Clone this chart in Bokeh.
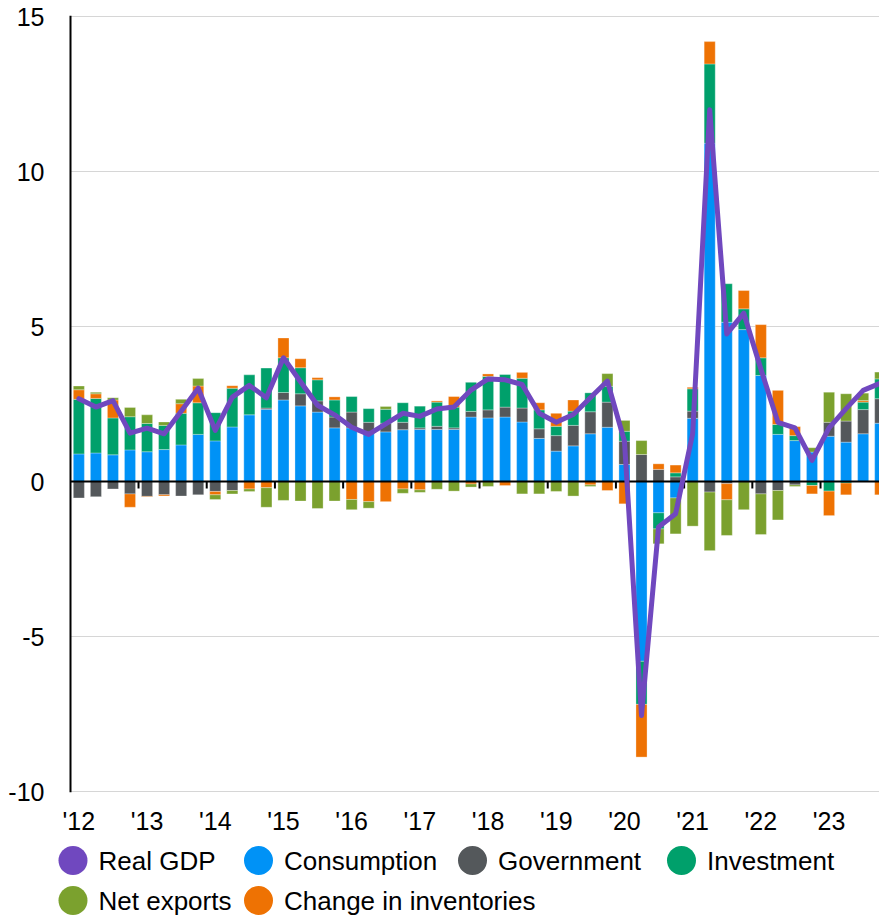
import numpy as np
from bokeh.plotting import figure
from bokeh.models import Range1d, FixedTicker, Span
from bokeh.layouts import column
from bokeh.embed import file_html
from bokeh.resources import INLINE
from bokeh.core.properties import value

# ---------------- data (contributions to real GDP growth, % y/y) ----------------
years = [2012, 2013, 2014, 2015, 2016, 2017, 2018, 2019, 2020, 2021, 2022, 2023]
year_labels = ["'12", "'13", "'14", "'15", "'16", "'17", "'18", "'19", "'20", "'21", "'22", "'23"]
quarters = [f"{y}Q{q}" for y in years for q in (1, 2, 3, 4)]

consumption = [0.89, 0.92, 0.86, 1.02, 0.96, 1.03, 1.18, 1.52, 1.31, 1.76, 2.15, 2.33,
               2.63, 2.44, 2.24, 1.73, 1.73, 1.59, 1.60, 1.67, 1.68, 1.68, 1.68, 2.08,
               2.05, 2.08, 1.92, 1.39, 0.98, 1.15, 1.54, 1.75, 0.55, -5.80, -1.01, -0.53,
               2.04, 10.91, 5.14, 4.90, 3.42, 1.52, 1.32, 0.95, 1.46, 1.27, 1.54, 1.88]
government = [-0.53, -0.49, -0.24, -0.40, -0.48, -0.43, -0.47, -0.43, -0.32, -0.29, 0.0, 0.04,
              0.24, 0.39, 0.36, 0.35, 0.51, 0.32, 0.28, 0.24, 0.05, 0.10, 0.05, 0.18,
              0.26, 0.32, 0.45, 0.31, 0.50, 0.66, 0.71, 0.81, 0.75, 0.87, 0.39, 0.15,
              0.23, -0.34, -0.07, 0.0, -0.40, -0.29, -0.11, 0.0, 0.45, 0.68, 0.78, 0.79]
investment = [1.76, 1.76, 1.19, 1.07, 0.91, 0.78, 1.02, 1.02, 0.91, 1.25, 1.29, 1.29,
              1.12, 0.84, 0.68, 0.55, 0.50, 0.44, 0.45, 0.63, 0.70, 0.78, 0.67, 0.94,
              1.08, 1.05, 0.96, 0.61, 0.30, 0.46, 0.61, 0.51, 0.32, -1.39, -0.52, 0.13,
              0.72, 2.56, 1.24, 0.67, 0.57, 0.32, 0.16, -0.13, -0.31, -0.05, 0.24, 0.64]
inventories = [0.31, 0.15, 0.58, -0.43, -0.02, -0.04, 0.31, 0.54, -0.11, 0.08, -0.24, -0.20,
               0.64, 0.29, 0.07, 0.10, -0.58, -0.65, -0.65, -0.24, -0.27, 0.04, 0.34, -0.08,
               0.08, -0.13, 0.19, 0.23, 0.42, 0.36, -0.11, -0.29, -0.72, -1.70, 0.18, 0.25,
               0.05, 0.72, -0.52, 0.59, 1.07, 1.10, 0.29, -0.27, -0.79, -0.38, 0.05, -0.43]
net_exports = [0.12, 0.05, 0.07, 0.30, 0.28, 0.11, 0.14, 0.24, -0.15, -0.11, -0.08, -0.63,
               -0.61, -0.63, -0.87, -0.63, -0.33, -0.21, 0.09, -0.14, -0.08, -0.25, -0.31, -0.10,
               -0.16, 0.0, -0.40, -0.40, -0.32, -0.47, -0.05, 0.41, 0.35, 0.45, -0.48, -1.16,
               -1.44, -1.89, -1.15, -0.91, -1.31, -0.95, -0.05, 0.14, 0.97, 0.88, 0.24, 0.22]
real_gdp = [2.67, 2.40, 2.61, 1.56, 1.72, 1.54, 2.27, 3.01, 1.65, 2.72, 3.10, 2.70,
            3.99, 3.22, 2.46, 2.15, 1.75, 1.52, 1.86, 2.20, 2.10, 2.34, 2.40, 2.95,
            3.31, 3.28, 3.13, 2.20, 1.91, 2.16, 2.70, 3.24, 1.30, -7.55, -1.47, -1.04,
            1.54, 11.99, 4.76, 5.43, 3.63, 1.91, 1.73, 0.68, 1.73, 2.35, 2.94, 3.17]

series_names = ["Consumption", "Government", "Investment", "Change in inventories", "Net exports"]
series_values = [consumption, government, investment, inventories, net_exports]
y_ticks = [-10, -5, 0, 5, 10, 15]
legend_names = ["Real GDP", "Consumption", "Government", "Investment", "Net exports", "Change in inventories"]

# ---------------- styles / layout ----------------
COLORS = {
    "Real GDP": "#7048bf",
    "Consumption": "#0092f6",
    "Government": "#54585b",
    "Investment": "#00a06b",
    "Net exports": "#7ba12e",
    "Change in inventories": "#ee7203",
}
FONT = "Liberation Sans"

W = 879
FRAME_L = 55             # page x of the plotting frame's left edge (room for legend keys)
AXIS_X_PAGE = 70         # page x of the visible vertical axis line
PX_PER_Q = 17.05         # pixels per quarter
PX_PER_UNIT = 31.0       # pixels per percentage point
TOP_PAD = 15
MAIN_H = 843
LEG_H = 916 - MAIN_H

y_lo = min(y_ticks) - 1 / PX_PER_UNIT
y_hi = max(y_ticks) + 1 / PX_PER_UNIT
frame_h = round((y_hi - y_lo) * PX_PER_UNIT)
x_axis_pos = -0.49                                   # data x of the vertical axis line
x_lo = x_axis_pos - (AXIS_X_PAGE - FRAME_L) / PX_PER_Q
x_hi = x_axis_pos + (W - AXIS_X_PAGE) / PX_PER_Q

p = figure(width=W, height=MAIN_H, x_range=Range1d(x_lo, x_hi), y_range=Range1d(y_lo, y_hi),
           toolbar_location=None, output_backend="svg",
           min_border_left=FRAME_L, min_border_right=0, min_border_top=TOP_PAD,
           min_border_bottom=MAIN_H - TOP_PAD - frame_h)
p.outline_line_color = None
p.background_fill_color = "white"
p.xgrid.grid_line_color = None
p.ygrid.grid_line_color = None

# horizontal grid lines, starting at the vertical axis line
grid_vals = [t for t in y_ticks if t != 0]
p.segment(x0=[x_axis_pos] * len(grid_vals), y0=grid_vals, x1=[x_hi] * len(grid_vals), y1=grid_vals,
          line_color="#d6d6d6", line_width=1)

# stacked bars (positive and negative parts stacked separately)
x = np.arange(len(quarters))
pos_base = np.zeros(len(x))
neg_base = np.zeros(len(x))
for name, vals in zip(series_names, series_values):
    v = np.asarray(vals, dtype=float)
    bottom = np.where(v >= 0, pos_base, neg_base)
    top = bottom + v
    pos_base = np.where(v >= 0, top, pos_base)
    neg_base = np.where(v < 0, top, neg_base)
    m = v != 0
    p.vbar(x=x[m], bottom=bottom[m], top=top[m], width=0.65,
           fill_color=COLORS[name], line_color="white", line_width=0.6, line_alpha=0.5)

# zero line with year-boundary ticks, and the vertical axis line
p.segment(x0=[x_axis_pos], y0=[0], x1=[x_hi], y1=[0], line_color="black", line_width=2)
boundaries = [4 * k - 0.5 for k in range(1, len(years) + 1)]
tick_len = 7 / PX_PER_UNIT
p.segment(x0=boundaries, y0=[0] * len(boundaries), x1=boundaries,
          y1=[-tick_len] * len(boundaries), line_color="black", line_width=2)
p.add_layout(Span(location=x_axis_pos, dimension="height", line_color="black", line_width=2))

# real GDP line
p.line(x=x, y=real_gdp, line_color=COLORS["Real GDP"], line_width=5,
       line_join="round", line_cap="round")

# y axis (labels only; its line is drawn at the axis position above)
p.yaxis.ticker = FixedTicker(ticks=y_ticks)
p.yaxis.major_label_overrides = {t: str(t) for t in y_ticks}
p.yaxis.axis_line_color = None
p.yaxis.major_tick_line_color = None
p.yaxis.minor_tick_line_color = None
p.yaxis.major_label_standoff = 5
p.yaxis.major_label_text_font = FONT
p.yaxis.major_label_text_font_size = "25px"
p.yaxis.major_label_text_color = "black"

# x axis (labels only, at the first quarter of each year)
q1_idx = [4 * k for k in range(len(years))]
p.xaxis.ticker = FixedTicker(ticks=q1_idx)
p.xaxis.major_label_overrides = {i: lab for i, lab in zip(q1_idx, year_labels)}
p.xaxis.axis_line_color = None
p.xaxis.major_tick_line_color = None
p.xaxis.minor_tick_line_color = None
p.xaxis.major_label_standoff = 8
p.xaxis.major_label_text_font = FONT
p.xaxis.major_label_text_font_size = "25px"
p.xaxis.major_label_text_color = "black"

# ---------------- legend figure (data units = page pixels) ----------------
leg_cx = [72.5, 258, 472, 681, 72.5, 258]          # circle centres, page x
leg_cy = [860, 860, 860, 860, 900, 900]            # circle centres, page y
leg_tx = [c + 25.5 for c in leg_cx]

lf = figure(width=W, height=LEG_H, x_range=Range1d(FRAME_L, W), y_range=Range1d(916, MAIN_H),
            toolbar_location=None, output_backend="svg", x_axis_type=None, y_axis_type=None,
            min_border_left=FRAME_L, min_border_right=0, min_border_top=0, min_border_bottom=0)
lf.outline_line_color = None
lf.xgrid.grid_line_color = None
lf.ygrid.grid_line_color = None
lf.scatter(x=leg_cx, y=leg_cy, size=29, marker="circle",
           fill_color=[COLORS[n] for n in legend_names], line_color=None)
lf.text(x=leg_tx, y=leg_cy, text=legend_names, text_font=value(FONT), text_font_size="26px",
        text_baseline="middle", text_align="left", text_color="black")

open("out.html", "w").write(file_html(column(p, lf), INLINE))
